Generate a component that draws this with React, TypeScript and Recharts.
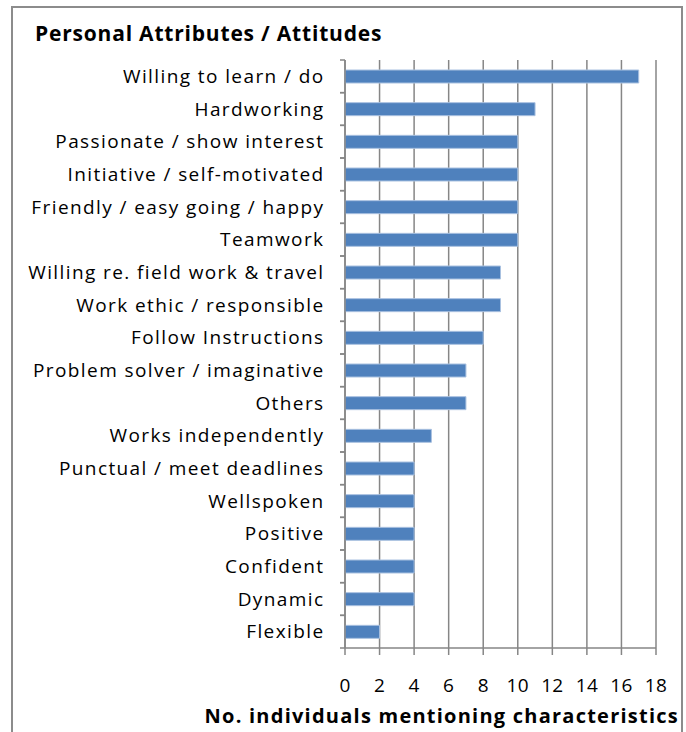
import React from "react";
import { BarChart, Bar, XAxis, YAxis, CartesianGrid } from "recharts";

const categories = [
  "Willing to learn / do",
  "Hardworking",
  "Passionate / show interest",
  "Initiative / self-motivated",
  "Friendly / easy going / happy",
  "Teamwork",
  "Willing re. field work & travel",
  "Work ethic / responsible",
  "Follow Instructions",
  "Problem solver / imaginative",
  "Others",
  "Works independently",
  "Punctual / meet deadlines",
  "Wellspoken",
  "Positive",
  "Confident",
  "Dynamic",
  "Flexible",
];
const counts = [17, 11, 10, 10, 10, 10, 9, 9, 8, 7, 7, 5, 4, 4, 4, 4, 4, 2];
const xTicks = [0, 2, 4, 6, 8, 10, 12, 14, 16, 18];

const data = categories.map((name, i) => ({ name, value: counts[i] }));

const W = 686;
const H = 732;
const M = { top: 60, right: 30, bottom: 54, left: 0 };
const BAND = (648 - 60) / categories.length;
const FONT = "'Open Sans', Lato, sans-serif";
const AXIS = "#868686";

const YTick = (props: any) => {
  const { x, y, payload } = props;
  const ax = x + 22;
  return (
    <g>
      <line x1={ax - 5} x2={ax} y1={y - BAND / 2} y2={y - BAND / 2} stroke={AXIS} strokeWidth={1.5} />
      <line x1={ax - 5} x2={ax} y1={y + BAND / 2} y2={y + BAND / 2} stroke={AXIS} strokeWidth={1.5} />
      <text
        x={x + 1.5}
        y={y}
        dy="0.35em"
        textAnchor="end"
        fontSize={19}
        letterSpacing={1.4}
        fill="#000"
        fontFamily={FONT}
      >
        {payload.value}
      </text>
    </g>
  );
};

const XTick = (props: any) => {
  const { x, y, payload } = props;
  return (
    <text x={x} y={y} dy="0.71em" textAnchor="middle" fontSize={19} letterSpacing={0.3} fill="#000" fontFamily={FONT}>
      {payload.value}
    </text>
  );
};

const XLabel = (props: any) => {
  const vb = props.viewBox || {};
  return (
    <text
      x={679}
      y={(vb.y ?? 648) + 68}
      dy="0.35em"
      textAnchor="end"
      fontSize={20}
      fontWeight="bold"
      letterSpacing={1.24}
      fill="#000"
      fontFamily={FONT}
    >
      No. individuals mentioning characteristics
    </text>
  );
};

export default function App() {
  return (
    <div style={{ position: "absolute", left: 0, top: 0, width: W, height: H, background: "#fff", overflow: "hidden" }}>
      <div
        style={{
          position: "absolute",
          left: 11,
          top: 6,
          width: 672,
          height: 760,
          border: "2px solid #8c8c8c",
          boxSizing: "border-box",
        }}
      />
      <div
        style={{
          position: "absolute",
          left: 35,
          top: 19,
          fontFamily: FONT,
          fontWeight: "bold",
          fontSize: 21,
          letterSpacing: 0.8,
          lineHeight: "28px",
          color: "#000",
        }}
      >
        Personal Attributes / Attitudes
      </div>
      <div style={{ position: "absolute", left: 0, top: 0 }}>
        <BarChart width={W} height={H} data={data} layout="vertical" margin={M} barCategoryGap={0}>
          <CartesianGrid horizontal={false} vertical={true} stroke={AXIS} strokeWidth={1.5} />
          <XAxis
            type="number"
            domain={[0, 18]}
            ticks={xTicks}
            interval={0}
            tickSize={7}
            tickMargin={24}
            stroke={AXIS}
            strokeWidth={1.5}
            tick={<XTick />}
            label={<XLabel />}
          />
          <YAxis
            type="category"
            dataKey="name"
            width={345}
            interval={0}
            tickSize={5}
            tickMargin={17}
            tickLine={false}
            stroke={AXIS}
            strokeWidth={1.5}
            tick={<YTick />}
          />
          <Bar dataKey="value" fill="#4F81BD" stroke="#A9C1E0" strokeWidth={1} barSize={13} isAnimationActive={false} />
        </BarChart>
      </div>
    </div>
  );
}
